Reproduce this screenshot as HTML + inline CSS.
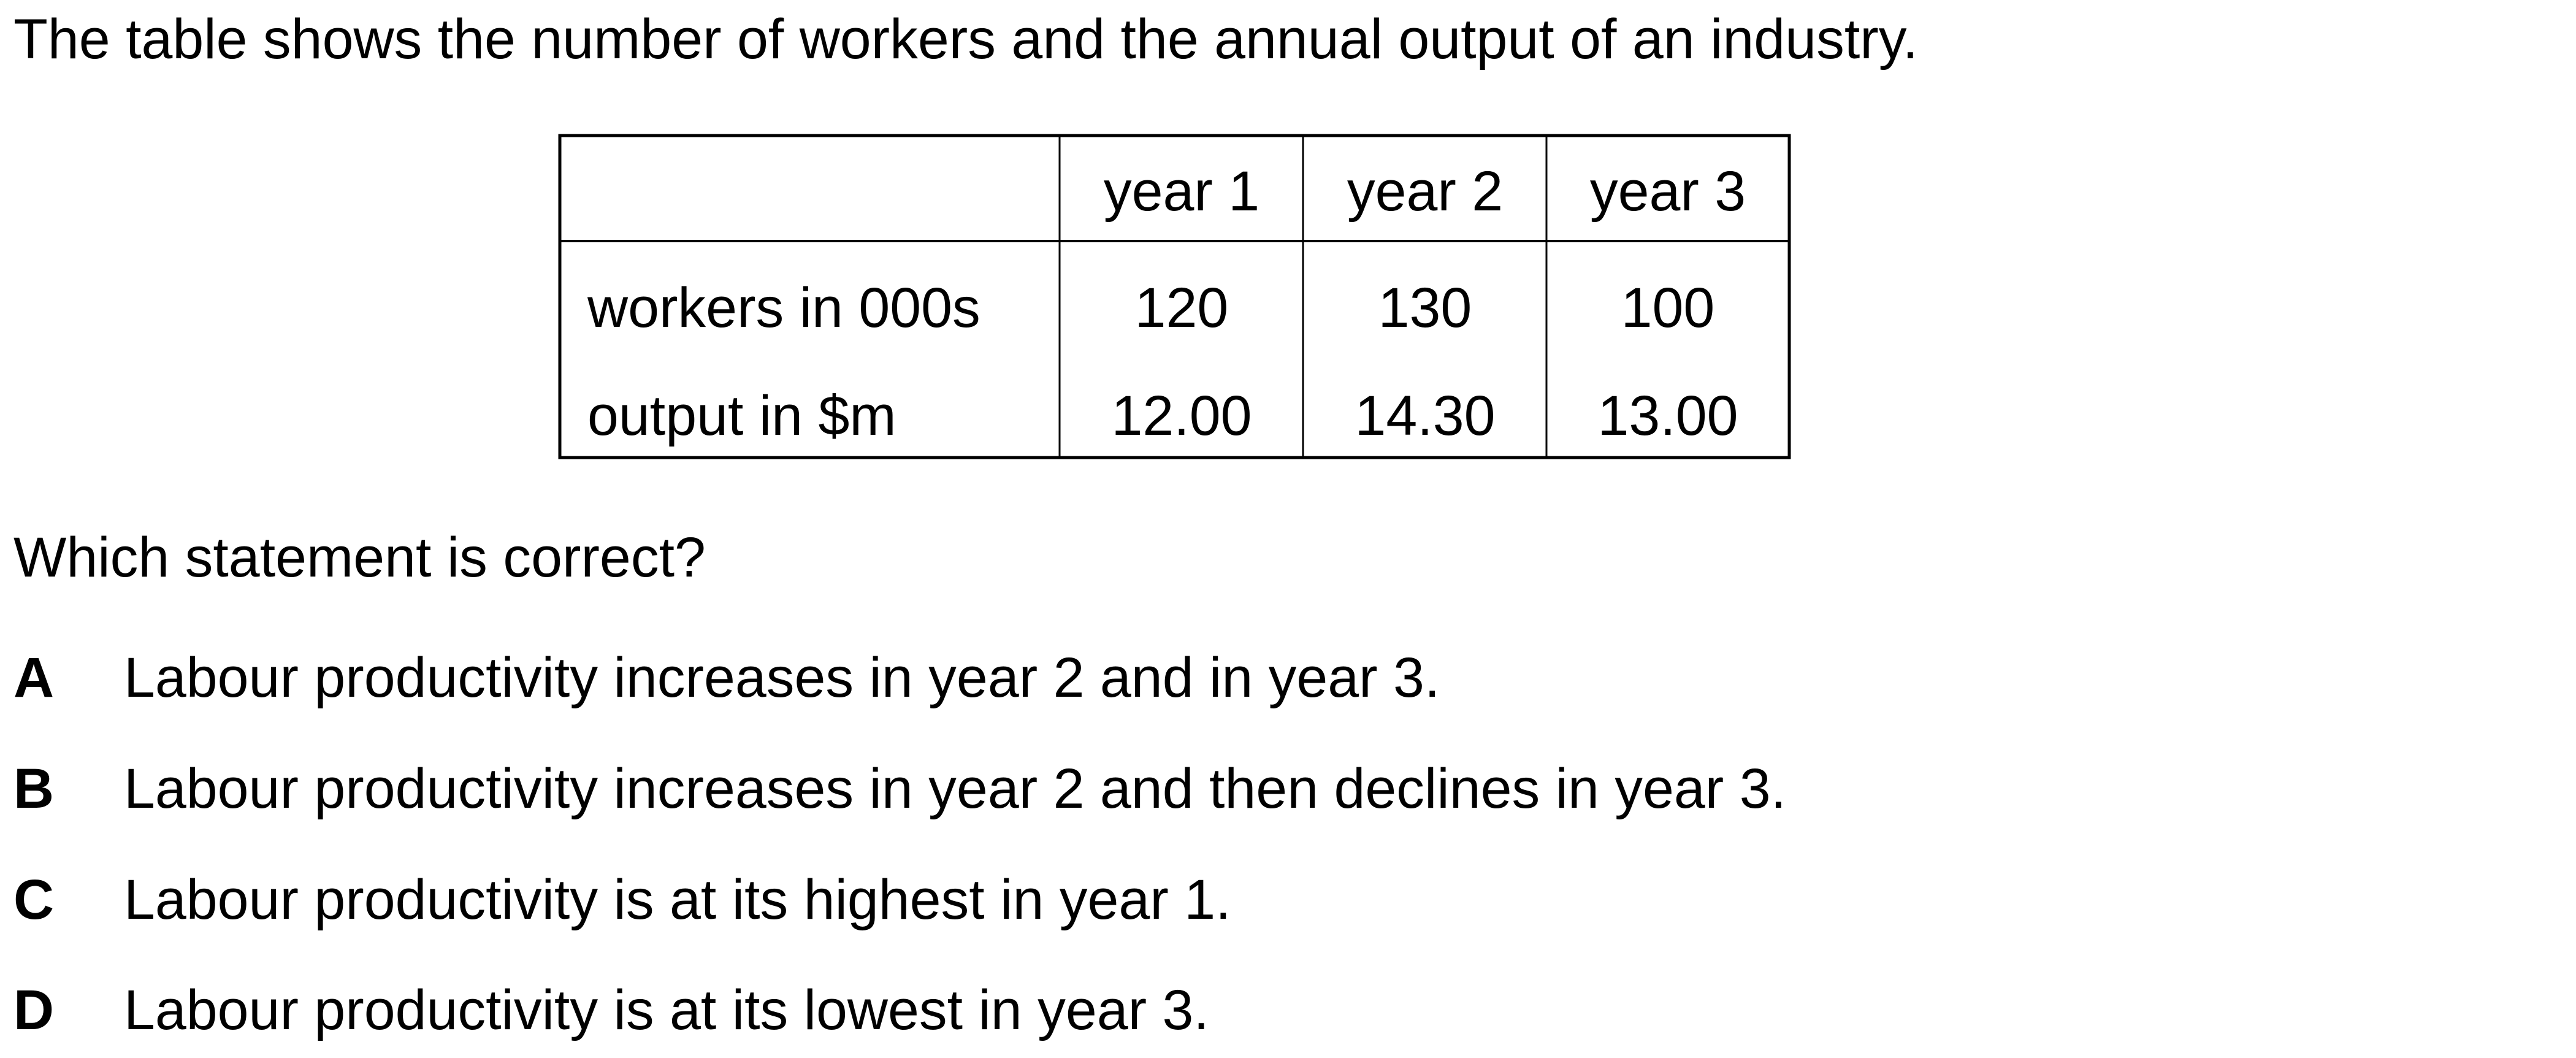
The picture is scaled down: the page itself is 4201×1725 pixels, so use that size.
<!DOCTYPE html>
<html>
<head>
<meta charset="utf-8">
<style>
  html,body{margin:0;padding:0;background:#fff;}
  svg{display:block;}
  text{font-family:"Liberation Sans",Arial,sans-serif;font-size:91.5px;fill:#000;}
  .b{font-weight:bold;}
</style>
</head>
<body>
<svg width="4201" height="1725" viewBox="0 0 4201 1725" xmlns="http://www.w3.org/2000/svg">
  <text x="22" y="95">The table shows the number of workers and the annual output of an industry.</text>

  <g>
    <rect x="913" y="221" width="2005" height="525" fill="none" stroke="#000" stroke-width="5"/>
    <line x1="913" y1="393" x2="2918" y2="393" stroke="#000" stroke-width="4"/>
    <line x1="1728" y1="221" x2="1728" y2="746" stroke="#000" stroke-width="3"/>
    <line x1="2125" y1="221" x2="2125" y2="746" stroke="#000" stroke-width="3"/>
    <line x1="2522" y1="221" x2="2522" y2="746" stroke="#000" stroke-width="3"/>

    <text x="1927" y="343" text-anchor="middle">year 1</text>
    <text x="2324" y="343" text-anchor="middle">year 2</text>
    <text x="2720" y="343" text-anchor="middle">year 3</text>

    <text x="958" y="533">workers in 000s</text>
    <text x="1927" y="533" text-anchor="middle">120</text>
    <text x="2324" y="533" text-anchor="middle">130</text>
    <text x="2720" y="533" text-anchor="middle">100</text>

    <text x="958" y="709">output in $m</text>
    <text x="1927" y="709" text-anchor="middle">12.00</text>
    <text x="2324" y="709" text-anchor="middle">14.30</text>
    <text x="2720" y="709" text-anchor="middle">13.00</text>
  </g>

  <text x="22" y="940">Which statement is correct?</text>

  <g>
    <text x="22" y="1136" class="b">A</text>
    <text x="202" y="1136">Labour productivity increases in year 2 and in year 3.</text>
  </g>
  <g>
    <text x="22" y="1317" class="b">B</text>
    <text x="202" y="1317">Labour productivity increases in year 2 and then declines in year 3.</text>
  </g>
  <g>
    <text x="22" y="1498" class="b">C</text>
    <text x="202" y="1498">Labour productivity is at its highest in year 1.</text>
  </g>
  <g>
    <text x="22" y="1678" class="b">D</text>
    <text x="202" y="1678">Labour productivity is at its lowest in year 3.</text>
  </g>
</svg>
</body>
</html>
